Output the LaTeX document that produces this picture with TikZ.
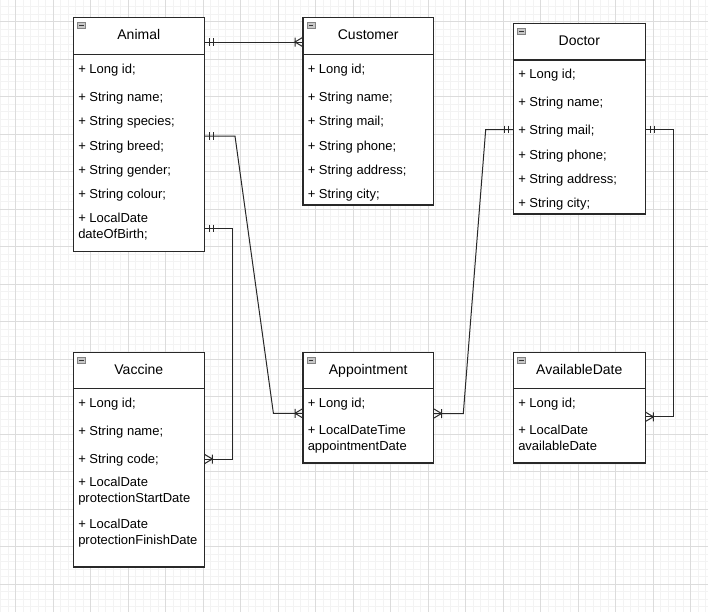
\documentclass[tikz,border=0pt]{standalone}
\usepackage{fontspec}
\setmainfont{Liberation Sans}
\usetikzlibrary{fit}
\definecolor{minorc}{RGB}{243,243,243}
\definecolor{majorc}{RGB}{220,220,220}
\definecolor{linec}{RGB}{40,40,40}
\definecolor{iconfill}{RGB}{200,200,200}
\definecolor{iconline}{RGB}{130,130,130}
\begin{document}
\begin{tikzpicture}[x=0.75pt,y=-0.75pt,
  box/.style={draw=linec, line width=0.8pt, fill=white, inner sep=0pt, outer sep=0pt},
  hline/.style={draw=linec, line width=0.8pt},
  hdr/.style={anchor=base, inner sep=0pt, font=\fontsize{10.5}{12.6}\selectfont},
  fld/.style={anchor=base west, inner sep=0pt, font=\fontsize{9.75}{12}\selectfont},
  edge/.style={draw=linec, line width=0.75pt},
  minorgrid/.style={draw=minorc, line width=0.75pt},
  majorgrid/.style={draw=majorc, line width=0.75pt},
  mandone/.pic={\draw[edge] (5,-3.8) -- (5,3.8) (9,-3.8) -- (9,3.8);},
  onemany/.pic={\draw[edge] (0.5,-4.5) -- (8,0) -- (0.5,4.5) (8,-4.5) -- (8,4.5);},
  collapse/.pic={\draw[draw=iconline, fill=iconfill, line width=0.5pt] (4,5) rectangle (12,11.5);
                 \draw[draw=black!80, line width=1.3pt] (5.8,8.25) -- (10.2,8.25);}
]
\useasboundingbox (0,0) rectangle (708,612);
\fill[white] (0,0) rectangle (708,612);
% grid
\foreach \i in {0,...,94} \draw[minorgrid] ({0.5+7.5*\i},0) -- ({0.5+7.5*\i},612);
\foreach \j in {0,...,80} \draw[minorgrid] (0,{6.7+7.5*\j}) -- (708,{6.7+7.5*\j});
\foreach \i in {0,...,18} \draw[majorgrid] ({15.5+37.5*\i},0) -- ({15.5+37.5*\i},612);
\foreach \j in {0,...,15} \draw[majorgrid] (0,{21.7+37.5*\j}) -- (708,{21.7+37.5*\j});

% ---------- boxes ----------
\node[box, fit={(73.3,17.3) (204.3,251.3)}] (animal) {};
\node[box, fit={(303,17.3) (433.5,205)}] (customer) {};
\node[box, fit={(513.3,23.3) (645.3,214)}] (doctor) {};
\node[box, fit={(73.3,352.3) (204.3,567)}] (vaccine) {};
\node[box, fit={(303,352.3) (433.5,463)}] (appointment) {};
\node[box, fit={(513.3,352.3) (645.3,463)}] (availabledate) {};

% header separators
\draw[hline] (animal.west |- 0,54.3) -- (animal.east |- 0,54.3);
\draw[hline] (customer.west |- 0,54.3) -- (customer.east |- 0,54.3);
\draw[hline] (doctor.west |- 0,60) -- (doctor.east |- 0,60);
\draw[hline] (vaccine.west |- 0,388.3) -- (vaccine.east |- 0,388.3);
\draw[hline] (appointment.west |- 0,388.3) -- (appointment.east |- 0,388.3);
\draw[hline] (availabledate.west |- 0,388.3) -- (availabledate.east |- 0,388.3);

% collapse icons
\pic at (animal.north west) {collapse};
\pic at (customer.north west) {collapse};
\pic at (doctor.north west) {collapse};
\pic at (vaccine.north west) {collapse};
\pic at (appointment.north west) {collapse};
\pic at (availabledate.north west) {collapse};

% headers
\node[hdr] (animalt) at (138.8,39.6) {Animal};
\node[hdr] (customert) at (368.2,39.6) {Customer};
\node[hdr] (doctort) at (579.3,45.8) {Doctor};
\node[hdr] (vaccinet) at (138.8,374.4) {Vaccine};
\node[hdr] (appointmentt) at (368.2,374.4) {Appointment};
\node[hdr] (availabledatet) at (579.3,374.4) {AvailableDate};

% Animal fields
\node[fld] (an1) at (78,73.5) {+ Long id;};
\node[fld] (an2) at (78,101.5) {+ String name;};
\node[fld] (an3) at (78,125.7) {+ String species;};
\node[fld] (an4) at (78,150.5) {+ String breed;};
\node[fld] (an5) at (78,174.7) {+ String gender;};
\node[fld] (an6) at (78,198.7) {+ String colour;};
\node[fld] (an7) at (78,222.7) {+ LocalDate};
\node[fld] (an8) at (78,238.7) {dateOfBirth;};

% Customer fields
\node[fld] (cu1) at (307.5,73.5) {+ Long id;};
\node[fld] (cu2) at (307.5,101.5) {+ String name;};
\node[fld] (cu3) at (307.5,125.7) {+ String mail;};
\node[fld] (cu4) at (307.5,150.5) {+ String phone;};
\node[fld] (cu5) at (307.5,174.7) {+ String address;};
\node[fld] (cu6) at (307.5,198.7) {+ String city;};

% Doctor fields
\node[fld] (do1) at (518,78.7) {+ Long id;};
\node[fld] (do2) at (518,106.7) {+ String name;};
\node[fld] (do3) at (518,134.7) {+ String mail;};
\node[fld] (do4) at (518,159.7) {+ String phone;};
\node[fld] (do5) at (518,183.7) {+ String address;};
\node[fld] (do6) at (518,207.7) {+ String city;};

% Vaccine fields
\node[fld] (va1) at (78,407.7) {+ Long id;};
\node[fld] (va2) at (78,435.7) {+ String name;};
\node[fld] (va3) at (78,463.7) {+ String code;};
\node[fld] (va4) at (78,486.7) {+ LocalDate};
\node[fld] (va5) at (78,502.7) {protectionStartDate};
\node[fld] (va6) at (78,528.7) {+ LocalDate};
\node[fld] (va7) at (78,544.7) {protectionFinishDate};

% Appointment fields
\node[fld] (ap1) at (307.5,407.7) {+ Long id;};
\node[fld] (ap2) at (307.5,434.7) {+ LocalDateTime};
\node[fld] (ap3) at (307.5,450.7) {appointmentDate};

% AvailableDate fields
\node[fld] (av1) at (518,407.7) {+ Long id;};
\node[fld] (av2) at (518,434.7) {+ LocalDate};
\node[fld] (av3) at (518,450.7) {availableDate};

% ---------- connectors ----------
% Animal -- Customer
\draw[edge] (animal.east |- 0,42) -- (customer.west |- 0,42);
\pic at (animal.east |- 0,42) {mandone};
\pic[xscale=-1] at (customer.west |- 0,42) {onemany};

% Animal -- Appointment
\draw[edge] (animal.east |- 0,136) -- (235,136) -- (273.4,413.3) -- (appointment.west |- 0,413.3);
\pic at (animal.east |- 0,136) {mandone};
\pic[xscale=-1] at (appointment.west |- 0,413.3) {onemany};

% Animal -- Vaccine
\draw[edge] (animal.east |- 0,228.5) -- (232.8,228.5) -- (232.8,459) -- (vaccine.east |- 0,459);
\pic at (animal.east |- 0,228.5) {mandone};
\pic at (vaccine.east |- 0,459) {onemany};

% Appointment -- Doctor
\draw[edge] (appointment.east |- 0,413.5) -- (463.3,413.5) -- (485.7,129.5) -- (doctor.west |- 0,129.5);
\pic at (appointment.east |- 0,413.5) {onemany};
\pic[xscale=-1] at (doctor.west |- 0,129.5) {mandone};

% Doctor -- AvailableDate
\draw[edge] (doctor.east |- 0,129.5) -- (673.7,129.5) -- (673.7,416.8) -- (availabledate.east |- 0,416.8);
\pic at (doctor.east |- 0,129.5) {mandone};
\pic at (availabledate.east |- 0,416.8) {onemany};
\end{tikzpicture}
\end{document}
